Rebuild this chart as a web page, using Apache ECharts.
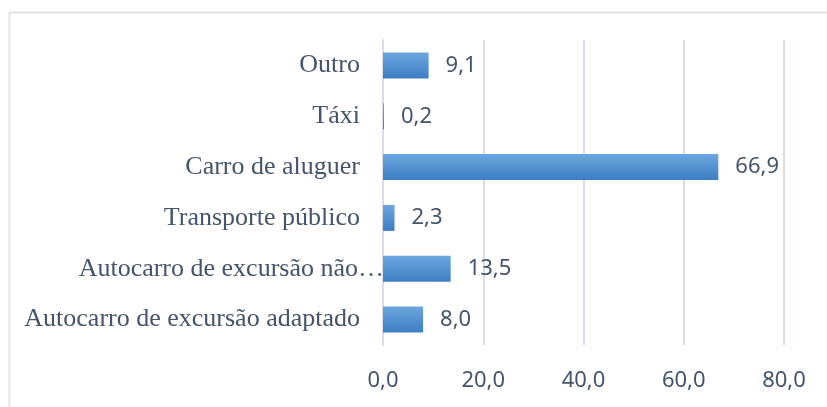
<!DOCTYPE html>
<html lang="pt">
<head>
    <meta charset="UTF-8">
    <title>Meio de transporte</title>
    <script src="https://cdn.jsdelivr.net/npm/echarts/dist/echarts.min.js"></script>
    <style>
        body { margin: 0; padding: 0; background: #fff; }
        #chart { width: 827px; height: 407px; }
    </style>
</head>
<body>
    <div id="chart"></div>
    <script>
        // categorias (de baixo para cima, como no eixo)
        const categorias = [
            'Autocarro de excursão adaptado',
            'Autocarro de excursão não…',
            'Transporte público',
            'Carro de aluguer',
            'Táxi',
            'Outro'
        ];
        // percentagens
        const valores = [8.0, 13.5, 2.3, 66.9, 0.2, 9.1];
        const ticksX = { min: 0, max: 80, interval: 20 };

        const txtCor = '#44546a';
        const linhaCor = '#d9dde6';

        const fmt = v => Number(v).toFixed(1).replace('.', ',');

        const chart = echarts.init(document.getElementById('chart'));

        chart.setOption({
            animation: false,
            graphic: [{
                type: 'rect',
                left: 7, top: 10,
                shape: { width: 830, height: 410 },
                style: { fill: 'none', stroke: '#dfe3ea', lineWidth: 2 }
            }],
            grid: { left: 383, right: 43, top: 40, bottom: 62 },
            xAxis: {
                type: 'value',
                min: ticksX.min,
                max: ticksX.max,
                interval: ticksX.interval,
                axisLine: { show: false },
                axisTick: { show: false },
                splitLine: { lineStyle: { color: linhaCor, width: 2 } },
                axisLabel: {
                    formatter: fmt,
                    color: txtCor,
                    fontFamily: 'Noto Sans',
                    fontSize: 22,
                    margin: 25
                }
            },
            yAxis: {
                type: 'category',
                data: categorias,
                axisLine: { show: true, lineStyle: { color: linhaCor, width: 2 } },
                axisTick: { show: false },
                axisLabel: {
                    color: txtCor,
                    fontFamily: 'Liberation Serif',
                    fontSize: 26,
                    margin: 23,
                    // o rótulo truncado do Excel passa por cima do eixo
                    formatter: v => v.endsWith('…') ? '{t|' + v + '}' : v,
                    rich: {
                        t: {
                            color: txtCor,
                            fontFamily: 'Liberation Serif',
                            fontSize: 26,
                            padding: [0, -24, 0, 0]
                        }
                    }
                }
            },
            series: [{
                type: 'bar',
                data: valores,
                barWidth: 26,
                itemStyle: {
                    color: new echarts.graphic.LinearGradient(0, 0, 0, 1, [
                        { offset: 0, color: '#6ca6de' },
                        { offset: 1, color: '#3d7ec4' }
                    ])
                },
                label: {
                    show: true,
                    position: 'right',
                    distance: 17,
                    formatter: p => fmt(p.value),
                    color: txtCor,
                    fontFamily: 'Noto Sans',
                    fontSize: 22
                }
            }]
        });
    </script>
</body>
</html>
